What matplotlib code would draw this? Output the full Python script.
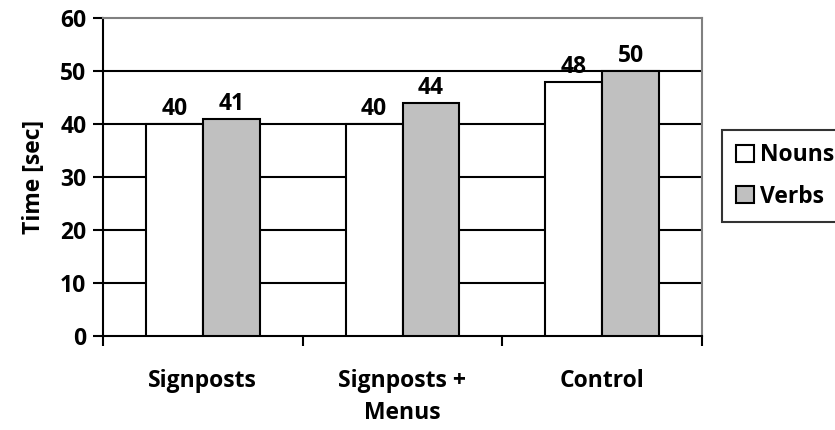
import matplotlib
matplotlib.use("Agg")
from matplotlib import pyplot as plt
from matplotlib.patches import Patch
import numpy as np

plt.rcParams['font.family'] = ['Open Sans', 'DejaVu Sans']
plt.rcParams['font.weight'] = 'bold'

categories = ["Signposts", "Signposts +\nMenus", "Control"]
series_names = ["Nouns", "Verbs"]
nouns = [40, 40, 48]
verbs = [41, 44, 50]
yticks = [0, 10, 20, 30, 40, 50, 60]

W, H = 835, 430
fig = plt.figure(figsize=(W / 100, H / 100), dpi=100)
ax = fig.add_axes([103 / W, (H - 336) / H, (702 - 103) / W, (336 - 18) / H])

x = np.arange(len(categories))
bw = 0.285
b1 = ax.bar(x - bw / 2, nouns, bw, color="white", edgecolor="black", linewidth=1.5, zorder=3)
b2 = ax.bar(x + bw / 2, verbs, bw, color="#C0C0C0", edgecolor="black", linewidth=1.5, zorder=3)

fs = 16.5
for bars, vals in ((b1, nouns), (b2, verbs)):
    for r, v in zip(bars, vals):
        ax.text(r.get_x() + r.get_width() / 2, v + 0.5, str(v), ha="center", va="bottom",
                fontsize=fs, fontweight="bold", zorder=4)

ax.set_xlim(-0.5, len(categories) - 0.5)
ax.set_ylim(0, 60)
ax.set_yticks(yticks)
ax.set_yticklabels([str(t) for t in yticks], fontsize=fs, fontweight="bold")
for t in yticks[1:-1]:
    ax.axhline(t, color="black", linewidth=1.5, zorder=1)

# category labels in the middle, ticks on the boundaries
ax.set_xticks(np.arange(-0.5, len(categories), 1.0))
ax.set_xticklabels([])
ax.set_xticks(x, minor=True)
ax.set_xticklabels(categories, minor=True, fontsize=fs, fontweight="bold", linespacing=1.45)
ax.tick_params(axis="x", which="minor", length=0, pad=24)
ax.tick_params(axis="x", which="major", length=7, width=1.5, direction="out")
ax.tick_params(axis="y", length=7, width=1.5, direction="out", pad=5)

ax.spines["left"].set_linewidth(1.5)
ax.spines["bottom"].set_linewidth(1.5)
ax.spines["top"].set_color("#808080")
ax.spines["right"].set_color("#808080")
ax.spines["top"].set_linewidth(1.5)
ax.spines["right"].set_linewidth(1.5)

ax.set_ylabel("Time [sec]", fontsize=fs, fontweight="bold", labelpad=10)

handles = [Patch(facecolor="white", edgecolor="black", linewidth=1.5),
           Patch(facecolor="#C0C0C0", edgecolor="black", linewidth=1.5)]
leg = fig.legend(handles, series_names, loc="center left", bbox_to_anchor=(722 / W, (H - 176) / H),
                 fancybox=False, edgecolor="black", handlelength=0.8, handleheight=0.8,
                 handletextpad=0.25, borderpad=0.6, labelspacing=0.75, borderaxespad=0,
                 prop={"size": fs, "weight": "bold"})
leg.get_frame().set_linewidth(1.5)

fig.savefig("out.png", dpi=100)
